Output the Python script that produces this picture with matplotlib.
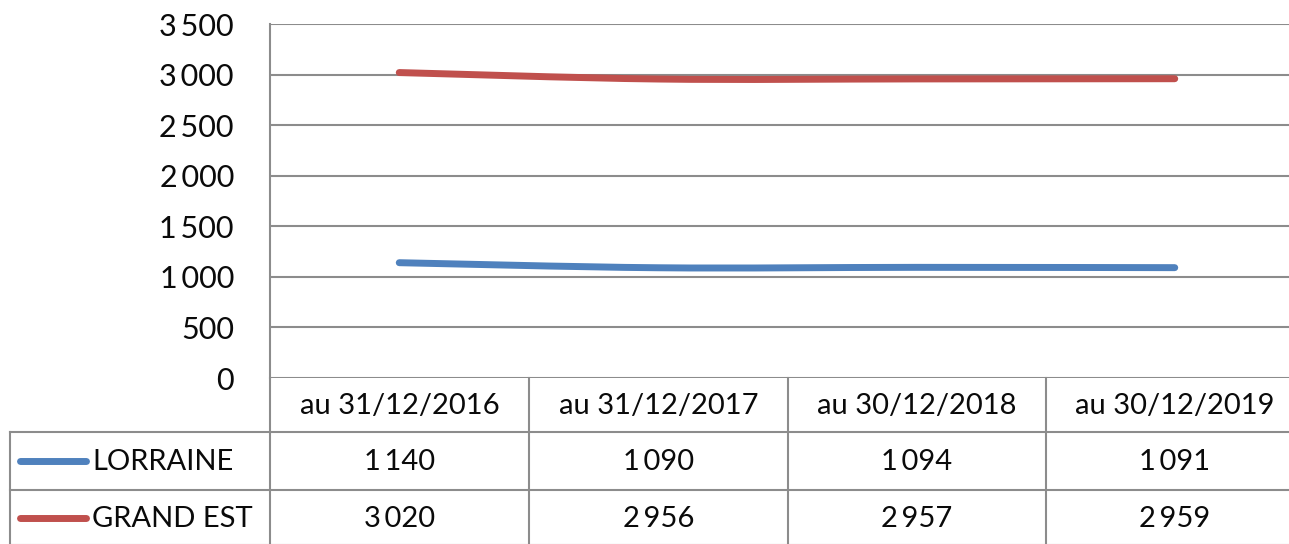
import matplotlib
matplotlib.use("Agg")
import matplotlib.pyplot as plt
from matplotlib.path import Path
from matplotlib.patches import PathPatch
from matplotlib.lines import Line2D

categories = ["au 31/12/2016", "au 31/12/2017", "au 30/12/2018", "au 30/12/2019"]
series_names = ["LORRAINE", "GRAND EST"]
lorraine = [1140, 1090, 1094, 1091]
grand_est = [3020, 2956, 2957, 2959]
yticks = [0, 500, 1000, 1500, 2000, 2500, 3000, 3500]
colors = ["#4F81BD", "#C0504D"]

W, H = 1289, 544
plt.rcParams['font.family'] = ['Lato', 'DejaVu Sans']
fig = plt.figure(figsize=(W / 100, H / 100), dpi=100)

def fx(px):
    return px / W

def fy(py):
    return 1 - py / H

def fmt(v):
    return f"{v:,}".replace(",", "\u2009")

GRID = "#8C8C8C"
TXT = "#0A0A0A"
x0, x1 = 270, 1304
ytop, ybot = 24, 378
ax = fig.add_axes([fx(x0), fy(ybot), fx(x1) - fx(x0), fy(ytop) - fy(ybot)])
ax.set_xlim(-0.5, len(categories) - 0.5)
ax.set_ylim(0, 3500)
ax.set_yticks(yticks)
ax.set_yticklabels([fmt(v) for v in yticks], fontsize=22, color=TXT)
ax.tick_params(axis="y", length=0, pad=26)
ax.set_xticks([])
for s in ["top", "right", "bottom"]:
    ax.spines[s].set_visible(False)
ax.spines["left"].set_color(GRID)
ax.spines["left"].set_linewidth(1.5)
ax.grid(axis="y", color=GRID, linewidth=1.5)
ax.set_axisbelow(True)


def smooth_path(xs, ys, t=1 / 6):
    verts = [(xs[0], ys[0])]
    codes = [Path.MOVETO]
    n = len(xs)
    for i in range(n - 1):
        xp, yp = (xs[i - 1], ys[i - 1]) if i > 0 else (xs[i], ys[i])
        xn, yn = (xs[i + 2], ys[i + 2]) if i + 2 < n else (xs[i + 1], ys[i + 1])
        c1 = (xs[i] + (xs[i + 1] - xp) * t, ys[i] + (ys[i + 1] - yp) * t)
        c2 = (xs[i + 1] - (xn - xs[i]) * t, ys[i + 1] - (yn - ys[i]) * t)
        verts += [c1, c2, (xs[i + 1], ys[i + 1])]
        codes += [Path.CURVE4] * 3
    return Path(verts, codes)

xs = list(range(len(categories)))
for vals, c in zip([lorraine, grand_est], colors):
    p = PathPatch(smooth_path(xs, vals), facecolor="none", edgecolor=c,
                  linewidth=5, capstyle="round", zorder=3)
    ax.add_patch(p)

# data table
col_edges = [270, 529, 788, 1046, 1304]
row_y = [378, 432, 490, 546]
lw = 1.5
def hline(y, xa, xb):
    fig.add_artist(Line2D([fx(xa), fx(xb)], [fy(y), fy(y)], color=GRID, linewidth=lw))
def vline(x, ya, yb):
    fig.add_artist(Line2D([fx(x), fx(x)], [fy(ya), fy(yb)], color=GRID, linewidth=lw))

hline(row_y[1], 10, W + 5)
hline(row_y[2], 10, W + 5)
hline(row_y[3] - 1, 10, W + 5)
vline(10, row_y[1], H + 5)
vline(270, row_y[0], H + 5)
for x in col_edges[1:-1]:
    vline(x, row_y[0], H + 5)

tsize = 21
for i, cat in enumerate(categories):
    cx = (col_edges[i] + col_edges[i + 1]) / 2
    fig.text(fx(cx), fy((row_y[0] + row_y[1]) / 2 + 1), cat, ha="center", va="center",
             fontsize=tsize, color=TXT)
    for r, vals in enumerate([lorraine, grand_est]):
        cy = (row_y[r + 1] + row_y[r + 2]) / 2 + 1
        fig.text(fx(cx), fy(cy), fmt(vals[i]), ha="center", va="center",
                 fontsize=tsize, color=TXT)

for r, (name, c) in enumerate(zip(series_names, colors)):
    cy = (row_y[r + 1] + row_y[r + 2]) / 2
    fig.add_artist(Line2D([fx(20), fx(86)], [fy(cy), fy(cy)], color=c, linewidth=5,
                          solid_capstyle="round"))
    fig.text(fx(92), fy(cy + 1), name, ha="left", va="center", fontsize=tsize, color=TXT)

fig.savefig("out.png", dpi=100)
